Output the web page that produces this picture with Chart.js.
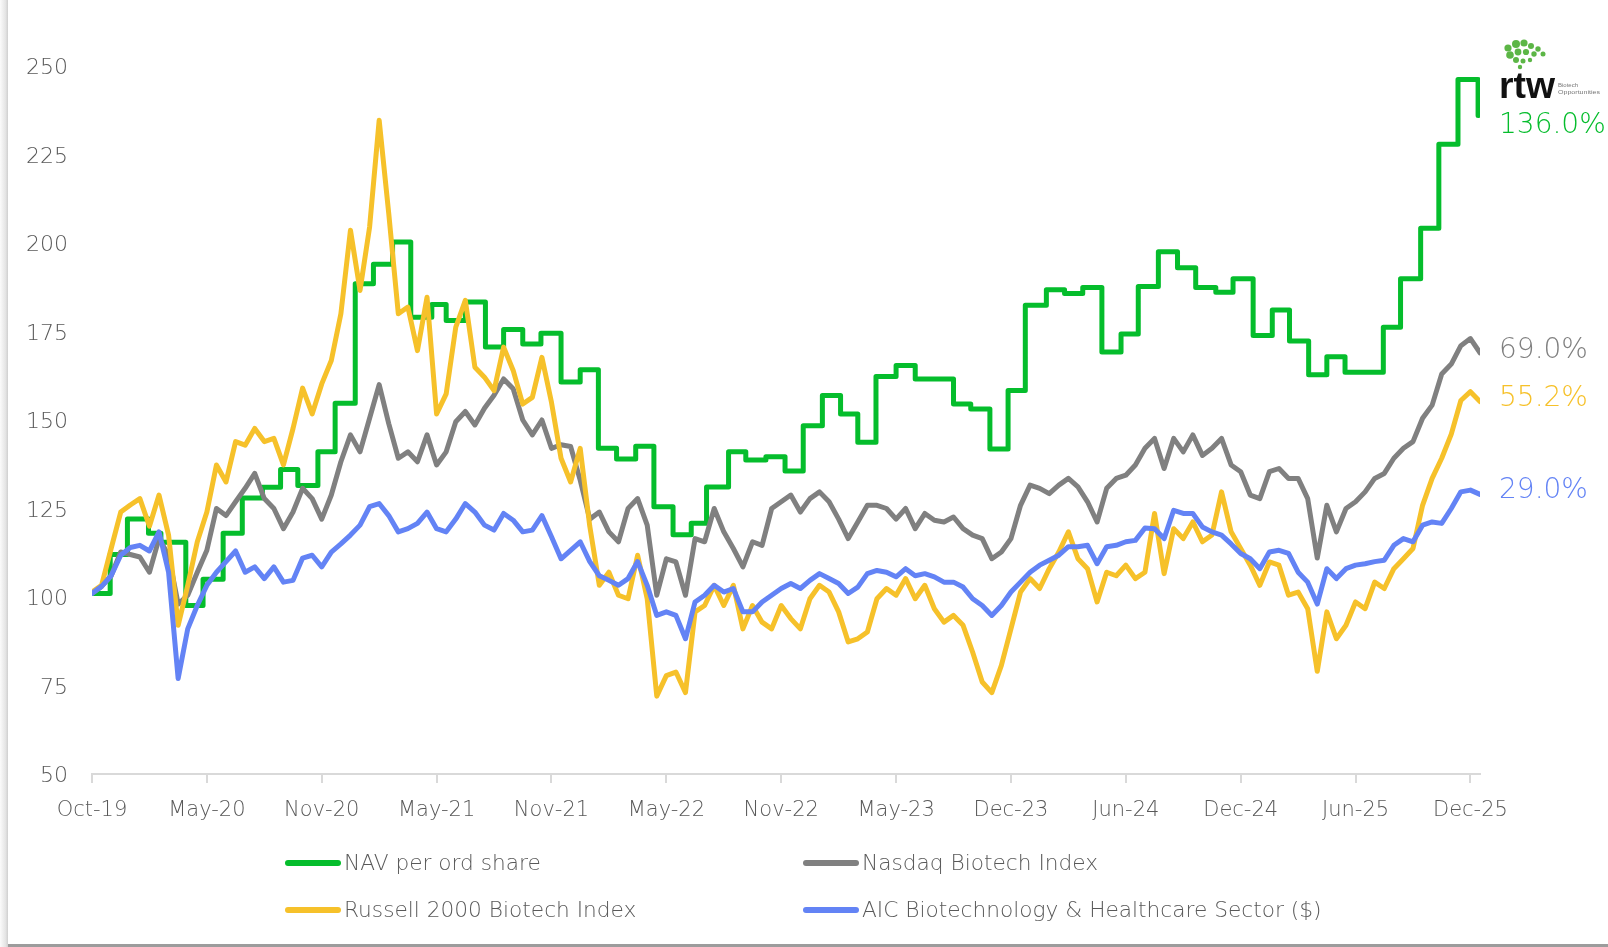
<!DOCTYPE html>
<html>
<head>
<meta charset="utf-8">
<title>RTW Biotech Opportunities - performance</title>
<script src="https://cdn.jsdelivr.net/npm/chart.js@4.4.1/dist/chart.umd.min.js"></script>
<style>
    body { margin: 0; background: #fff; overflow: hidden; }
    #wrap { position: relative; width: 1608px; height: 947px; background: #fff; overflow: hidden; }
    #edgeLeft { position: absolute; left: 0; top: 0; width: 8px; height: 947px;
        background: linear-gradient(to right, #fbfbfb, #e4e4e4 70%, #cfcfcf); }
    #edgeBottom { position: absolute; left: 8px; top: 944px; width: 1600px; height: 3px; background: #9c9c9c; }
    #chartBox { position: absolute; left: 0; top: 0; width: 1608px; height: 947px; }
    #legend { position: absolute; left: 285px; top: 839px; display: grid;
        grid-template-columns: 518px 560px; grid-auto-rows: 47px;
        font-family: "DejaVu Sans", sans-serif; font-weight: 300; font-size: 21.7px; color: #595959; }
    .item { display: flex; align-items: center; white-space: nowrap; }
    .swatch { width: 56px; height: 6px; border-radius: 3px; margin-right: 3px; }
    #logo { position: absolute; left: 1496px; top: 38px; }
</style>
</head>
<body>
<div id="wrap">
    <div id="edgeLeft"></div>
    <div id="edgeBottom"></div>
    <div id="chartBox"><canvas id="perfChart"></canvas></div>
    <div id="legend"></div>
    <svg id="logo" width="110" height="64" viewBox="0 0 110 64">
        <g fill="#5cb646">
            <circle cx="12" cy="10" r="3.6"/><circle cx="20" cy="6" r="4"/><circle cx="28" cy="5" r="3.6"/>
            <circle cx="35" cy="8" r="3"/><circle cx="42" cy="11" r="2.7"/><circle cx="47" cy="16" r="2.5"/>
            <circle cx="14" cy="17" r="3.8"/><circle cx="22" cy="14" r="3.4"/><circle cx="30" cy="14" r="3.1"/>
            <circle cx="38" cy="16" r="2.7"/><circle cx="20" cy="22" r="3"/><circle cx="27" cy="23" r="2.5"/>
            <circle cx="34" cy="22" r="2.2"/><circle cx="24" cy="29" r="2.2"/>
        </g>
        <text x="3" y="60" font-family="Liberation Sans, Arial, sans-serif" font-size="36" font-weight="bold" fill="#111"
              textLength="56" lengthAdjust="spacingAndGlyphs">rtw</text>
        <text x="62" y="49" font-family="Liberation Sans, Arial, sans-serif" font-size="6" fill="#777">Biotech</text>
        <text x="62" y="56" font-family="Liberation Sans, Arial, sans-serif" font-size="6" fill="#777"
              textLength="42" lengthAdjust="spacingAndGlyphs">Opportunities</text>
    </svg>
</div>

<script>
// x is a sample index (about two weeks per step); a labelled tick every 12 samples
const tickLabels = ['Oct-19', 'May-20', 'Nov-20', 'May-21', 'Nov-21', 'May-22', 'Nov-22',
    'May-23', 'Dec-23', 'Jun-24', 'Dec-24', 'Jun-25', 'Dec-25'];

// NAV is monthly: index where each step starts, and its value
const navX = [0, 1.9, 3.7, 5.9, 7.2, 9.8, 11.6, 13.7, 15.7, 17.8, 19.7, 21.5, 23.6, 25.4, 27.5,
    29.4, 31.4, 33.3, 35.5, 37, 39, 41.1, 43, 45, 46.9, 49, 51, 52.9, 54.8, 56.8,
    58.7, 60.7, 62.6, 64.2, 66.5, 68.3, 70.4, 72.4, 74.3, 76.3, 78.2, 80, 81.9, 84, 86,
    90, 91.8, 93.8, 95.7, 97.5, 99.7, 101.6, 103.5, 105.5, 107.5, 109.3, 111.4, 113.4, 115.3, 117.4,
    119.2, 121.3, 123.3, 125.1, 127.1, 129, 130.9, 134.9, 136.7, 138.8, 140.7, 142.7, 144.8];
const navY = [101, 112, 122, 118, 115.5, 97.6, 105, 118, 128, 131, 136, 131.5, 141, 154.7, 188.5,
    194, 200.3, 179, 182.6, 178.1, 183.3, 170.6, 175.6, 171.5, 174.5, 160.7, 164.2, 142, 139, 142.6,
    125.5, 117.6, 120.8, 131.1, 141, 138.7, 139.6, 135.6, 148.4, 156.9, 151.7, 143.7, 162.3, 165.4, 161.6,
    154.5, 153.1, 141.8, 158.3, 182.4, 186.8, 185.7, 187.4, 169.2, 174.3, 187.7, 197.5, 193, 187.4, 186.1,
    189.9, 173.9, 181.1, 172.3, 162.8, 167.9, 163.5, 176.2, 189.9, 204.2, 227.9, 246.2, 236];

const nasdaq = [101, 103, 106, 112.7, 112, 111.3, 107, 116.5, 111.8, 98, 100.5, 107, 113.2, 125, 123,
    126.9, 130.7, 134.9, 127.8, 125, 119.3, 124, 130.7, 127.8, 122, 128.8, 138.2, 145.8, 141, 150.5,
    160, 149, 139.2, 141, 138.2, 145.8, 137.3, 141, 149.5, 152.4, 148.6, 153.3, 157, 161.6, 158.8,
    150, 145.8, 150, 142, 143, 142.5, 133, 122, 124, 118.4, 115.6, 125, 127.8, 120.3, 100.5,
    110.8, 109.9, 100.5, 116.5, 115.6, 125, 118.4, 113.7, 108.5, 115.6, 114.6, 125, 126.9, 128.8, 124,
    127.8, 129.7, 126.9, 122, 116.5, 121.2, 125.9, 125.9, 125, 122, 125, 119.3, 123.6, 121.7, 121.2,
    122.6, 119.3, 117.5, 116.5, 110.8, 112.7, 116.5, 125.9, 131.6, 130.7, 129.2, 131.6, 133.5, 131.1, 126.9,
    121.2, 130.7, 133.5, 134.4, 137.3, 142, 144.8, 136.3, 144.8, 141, 145.8, 140, 142, 144.8, 137.3,
    135.4, 128.8, 127.8, 135.4, 136.3, 133.5, 133.5, 127.8, 111, 125.9, 118.4, 125, 126.9, 129.7, 133.5,
    134.9, 139.2, 142, 143.9, 150.5, 154.2, 163, 165.8, 171, 173, 169];

const russell = [101.4, 103.3, 113.7, 124, 126, 127.8, 120, 128.8, 117.5, 92, 103.3, 115.6, 124, 137.3, 132.5,
    143.9, 142.9, 147.6, 143.9, 144.8, 137.3, 147.6, 159, 151.7, 160.2, 166.8, 180, 203.6, 186.6, 204.5,
    234.7, 208.3, 180, 181.9, 169.6, 184.7, 151.7, 157.4, 176.2, 183.8, 164.9, 162.1, 158.3, 170.6, 164,
    154.5, 156.4, 167.7, 155, 139.2, 132.5, 142, 120, 103.3, 107, 100.5, 99.5, 111.8, 99.5, 72,
    77.8, 78.8, 73, 95.8, 97.6, 103.3, 97.6, 103.3, 91, 97.6, 92.9, 91, 97.6, 93.9, 91,
    99.5, 103.3, 101.4, 95.8, 87.3, 88.2, 90.1, 99.5, 102.4, 100.5, 105.2, 99.5, 103.3, 96.7, 92.9,
    94.8, 92, 84.4, 76, 73, 80.7, 91, 101.4, 105.2, 102.4, 108, 112.7, 118.4, 110.8, 108,
    98.6, 107, 106, 109, 105.2, 107, 123.6, 106.6, 119.3, 116.5, 121.2, 115.6, 117.5, 129.7, 118.4,
    113.7, 109, 103.3, 109.9, 109, 100.5, 101.4, 96.7, 79, 95.8, 88.2, 92, 98.6, 96.7, 104.2,
    102.4, 108, 110.8, 113.7, 125.9, 133.5, 139.2, 146, 155.5, 158, 155.2];

const aic = [101, 103, 106, 111.8, 114, 114.6, 113, 118.4, 107, 77, 91, 97.6, 103.3, 107, 110,
    113, 107, 108.5, 105.2, 108.5, 104.2, 104.7, 111, 111.8, 108.5, 112.7, 115, 117.5, 120.3, 125.5,
    126.4, 123, 118.4, 119.3, 120.8, 124, 119.3, 118.4, 122, 126.4, 124, 120.3, 118.9, 123.6, 121.7,
    118.4, 118.9, 123, 117, 110.8, 113.2, 115.6, 110, 106, 104.7, 103.3, 105.2, 110, 103.3, 94.8,
    95.8, 94.8, 88.2, 98.6, 100.5, 103.3, 101.4, 102.4, 95.8, 95.8, 98.6, 100.5, 102.4, 103.8, 102.4,
    104.7, 106.6, 105.2, 103.8, 101, 102.8, 106.6, 107.5, 107, 105.7, 108, 106, 106.6, 105.7, 104.2,
    104.2, 102.8, 99.5, 97.6, 94.8, 97.6, 101.4, 104.2, 107, 109, 110.4, 111.8, 114.2, 114.2, 114.6,
    109.4, 114.2, 114.6, 115.6, 116, 119.5, 119.3, 116.5, 124.5, 123.6, 123.6, 119.8, 118.4, 117.5, 115,
    112.3, 110.8, 108, 112.7, 113.2, 112.3, 107, 104.2, 98, 108, 105.2, 108, 109, 109.4, 110,
    110.4, 114.6, 116.5, 115.6, 120.3, 121.2, 120.8, 125, 129.7, 130.2, 129];

const seriesNames = ['NAV per ord share', 'Nasdaq Biotech Index', 'Russell 2000 Biotech Index',
    'AIC Biotechnology & Healthcare Sector ($)'];

document.addEventListener('DOMContentLoaded', function () {

    const ctx = document.getElementById('perfChart');
    const colors = ['#05BD2C', '#808080', '#F6C12A', '#6383F5'];
    const labelNudge = [10, -2, -3, -4];
    const textGray = '#595959';
    const fontFamily = '"DejaVu Sans", sans-serif';

    const toPoints = (arr) => arr.map((v, i) => ({ x: i, y: v }));

    const lineStyle = {
        pointRadius: 0,
        borderWidth: 5,
        borderJoinStyle: 'round',
        borderCapStyle: 'round',
        tension: 0,
        fill: false
    };

    const datasets = [
        Object.assign({ label: seriesNames[0], data: navX.map((x, i) => ({ x: x, y: navY[i] })),
            borderColor: colors[0], stepped: 'before', order: 3 }, lineStyle),
        Object.assign({ label: seriesNames[1], data: toPoints(nasdaq), borderColor: colors[1], order: 2 }, lineStyle),
        Object.assign({ label: seriesNames[2], data: toPoints(russell), borderColor: colors[2], order: 1 }, lineStyle),
        Object.assign({ label: seriesNames[3], data: toPoints(aic), borderColor: colors[3], order: 0 }, lineStyle)
    ];

    // final return printed at the right-hand end of each line
    const endLabels = {
        id: 'endLabels',
        afterDatasetsDraw(chart) {
            const c = chart.ctx;
            const yScale = chart.scales.y;
            c.save();
            c.font = '300 28px ' + fontFamily;
            c.textAlign = 'left';
            c.textBaseline = 'middle';
            chart.data.datasets.forEach((ds, i) => {
                const last = ds.data[ds.data.length - 1].y;
                c.fillStyle = colors[i];
                c.fillText((last - 100).toFixed(1) + '%', chart.chartArea.right + 19,
                    yScale.getPixelForValue(last) + labelNudge[i]);
            });
            c.restore();
        }
    };

    new Chart(ctx, {
        type: 'line',
        data: { datasets: datasets },
        options: {
            responsive: true,
            maintainAspectRatio: false,
            animation: false,
            layout: { padding: { top: 66, right: 128, bottom: 123, left: 0 } },
            plugins: {
                legend: { display: false },
                tooltip: { enabled: false }
            },
            scales: {
                x: {
                    type: 'linear',
                    min: 0,
                    max: 145,
                    afterBuildTicks: function (axis) {
                        axis.ticks = tickLabels.map((t, i) => ({ value: i * 12 }));
                    },
                    afterFit: function (axis) { axis.height = 50; },
                    grid: {
                        display: true,
                        drawOnChartArea: false,
                        drawTicks: true,
                        tickLength: 9,
                        color: '#d9d9d9',
                        lineWidth: 2
                    },
                    border: { display: true, color: '#d9d9d9', width: 2 },
                    ticks: {
                        autoSkip: false,
                        maxRotation: 0,
                        padding: 15,
                        color: textGray,
                        font: { family: fontFamily, size: 21, weight: '300' },
                        callback: function (value) {
                            return tickLabels[Math.round(value / 12)];
                        }
                    }
                },
                y: {
                    min: 50,
                    max: 250,
                    afterFit: function (axis) { axis.width = 92; },
                    grid: { display: false },
                    border: { display: false },
                    ticks: {
                        stepSize: 25,
                        padding: 16,
                        labelOffset: 2.5,
                        color: textGray,
                        font: { family: fontFamily, size: 22, weight: '300' }
                    }
                }
            }
        },
        plugins: [endLabels]
    });

    // two-column legend below the plot
    const legend = document.getElementById('legend');
    seriesNames.forEach((name, i) => {
        const item = document.createElement('div');
        item.className = 'item';
        const sw = document.createElement('span');
        sw.className = 'swatch';
        sw.style.background = colors[i];
        const txt = document.createElement('span');
        txt.textContent = name;
        item.appendChild(sw);
        item.appendChild(txt);
        legend.appendChild(item);
    });
});
</script>
</body>
</html>
